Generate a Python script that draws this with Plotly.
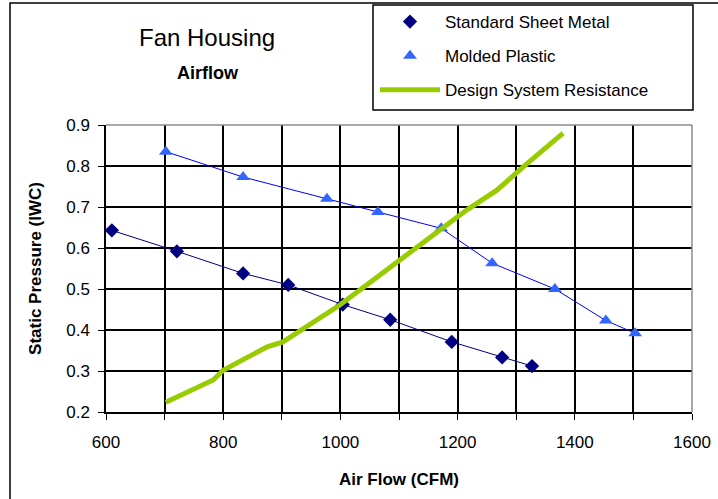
import plotly.graph_objects as go

# Data
metal_x = [610, 721, 834, 911, 1004, 1085, 1190, 1276, 1327]
metal_y = [0.643, 0.592, 0.538, 0.510, 0.462, 0.425, 0.371, 0.333, 0.312]

plastic_x = [702, 834, 977, 1064, 1172, 1259, 1366, 1453, 1503]
plastic_y = [0.835, 0.773, 0.720, 0.688, 0.648, 0.563, 0.500, 0.423, 0.392]

design_x = [702, 783, 800, 875, 902, 953, 999, 1068, 1170, 1216, 1267, 1312, 1380]
design_y = [0.224, 0.278, 0.302, 0.359, 0.371, 0.417, 0.461, 0.535, 0.644, 0.693, 0.741, 0.798, 0.880]

FONT = "Arial, Liberation Sans, sans-serif"

W, H = 718, 499
# plot area in page pixels
L, R, T, B = 106, 692, 125, 412
PW, PH = R - L, B - T


def px(xp):
    return (xp - L) / PW


def py(yp):
    return (B - yp) / PH


fig = go.Figure()

# connecting lines (not in legend)
fig.add_trace(go.Scatter(x=metal_x, y=metal_y, mode="lines",
                         line=dict(color="#000080", width=1), showlegend=False, hoverinfo="skip"))
fig.add_trace(go.Scatter(x=plastic_x, y=plastic_y, mode="lines",
                         line=dict(color="#0000FF", width=1), showlegend=False, hoverinfo="skip"))

fig.add_trace(go.Scatter(x=metal_x, y=metal_y, mode="markers", name="Standard Sheet Metal",
                         legendgroup="a",
                         marker=dict(symbol="diamond", size=11, color="#000080")))
fig.add_trace(go.Scatter(x=plastic_x, y=plastic_y, mode="markers", name="Molded Plastic",
                         legendgroup="b",
                         marker=dict(symbol="triangle-up", size=12, color="#3366FF")))
fig.add_trace(go.Scatter(x=design_x, y=design_y, mode="lines", name="Design System Resistance",
                         legendgroup="c",
                         line=dict(color="#99CC00", width=5)))

fig.update_layout(
    width=W, height=H,
    margin=dict(l=L, r=W - R, t=T, b=H - B, autoexpand=False),
    paper_bgcolor="white", plot_bgcolor="white",
    font=dict(family=FONT, size=16, color="black"),
    showlegend=True,
    legend=dict(xref="container", yref="container",
                x=375 / W, y=1 - 4 / H, xanchor="left", yanchor="top",
                bgcolor="rgba(0,0,0,0)", borderwidth=0,
                font=dict(size=17, family=FONT), tracegroupgap=9,
                itemwidth=60),
    xaxis=dict(range=[600, 1600], dtick=200, tick0=600, automargin=False,
               showgrid=True, gridcolor="black", gridwidth=1.5,
               ticks="outside", ticklen=6, tickcolor="black",
               showline=True, linecolor="black", linewidth=1.5,
               zeroline=False, ticklabelstandoff=8,
               minor=dict(dtick=100, showgrid=True, gridcolor="black", gridwidth=1.5,
                          ticks="outside", ticklen=6, tickcolor="black"),
               title=dict(text="<b>Air Flow (CFM)</b>", font=dict(size=17), standoff=22),
               tickfont=dict(size=17)),
    yaxis=dict(range=[0.2, 0.9], dtick=0.1, tick0=0.2, tickformat=".1f", automargin=False,
               showgrid=True, gridcolor="black", gridwidth=1.5,
               ticks="outside", ticklen=6, tickcolor="black",
               showline=True, linecolor="black", linewidth=1.5,
               zeroline=False, ticklabelstandoff=5,
               title=dict(text="<b>Static Pressure (IWC)</b>", font=dict(size=17), standoff=20),
               tickfont=dict(size=17)),
    annotations=[
        dict(text="Fan Housing", xref="paper", yref="paper", x=px(207), y=py(37),
             xanchor="center", yanchor="middle", showarrow=False,
             font=dict(size=24, family=FONT)),
        dict(text="<b>Airflow</b>", xref="paper", yref="paper", x=px(208), y=py(73),
             xanchor="center", yanchor="middle", showarrow=False,
             font=dict(size=18, family=FONT)),
    ],
    shapes=[
        # outer chart frame
        dict(type="rect", xref="paper", yref="paper", x0=px(10), x1=px(730), y0=py(520), y1=py(3),
             line=dict(color="black", width=1.5), fillcolor="rgba(0,0,0,0)", layer="below"),
        # legend box
        dict(type="rect", xref="paper", yref="paper", x0=px(373), x1=px(693), y0=py(110), y1=py(5),
             line=dict(color="black", width=1.5), fillcolor="white", layer="below"),
        # grey plot-area border on top and right
        dict(type="line", xref="paper", yref="paper", x0=0, x1=1, y0=1, y1=1,
             line=dict(color="#8c8c8c", width=1.5)),
        dict(type="line", xref="paper", yref="paper", x0=1, x1=1, y0=0, y1=1,
             line=dict(color="#8c8c8c", width=1.5)),
    ],
)

fig.write_html("out.html", config={"displayModeBar": False},
               post_script="document.body.style.margin='0px';")
